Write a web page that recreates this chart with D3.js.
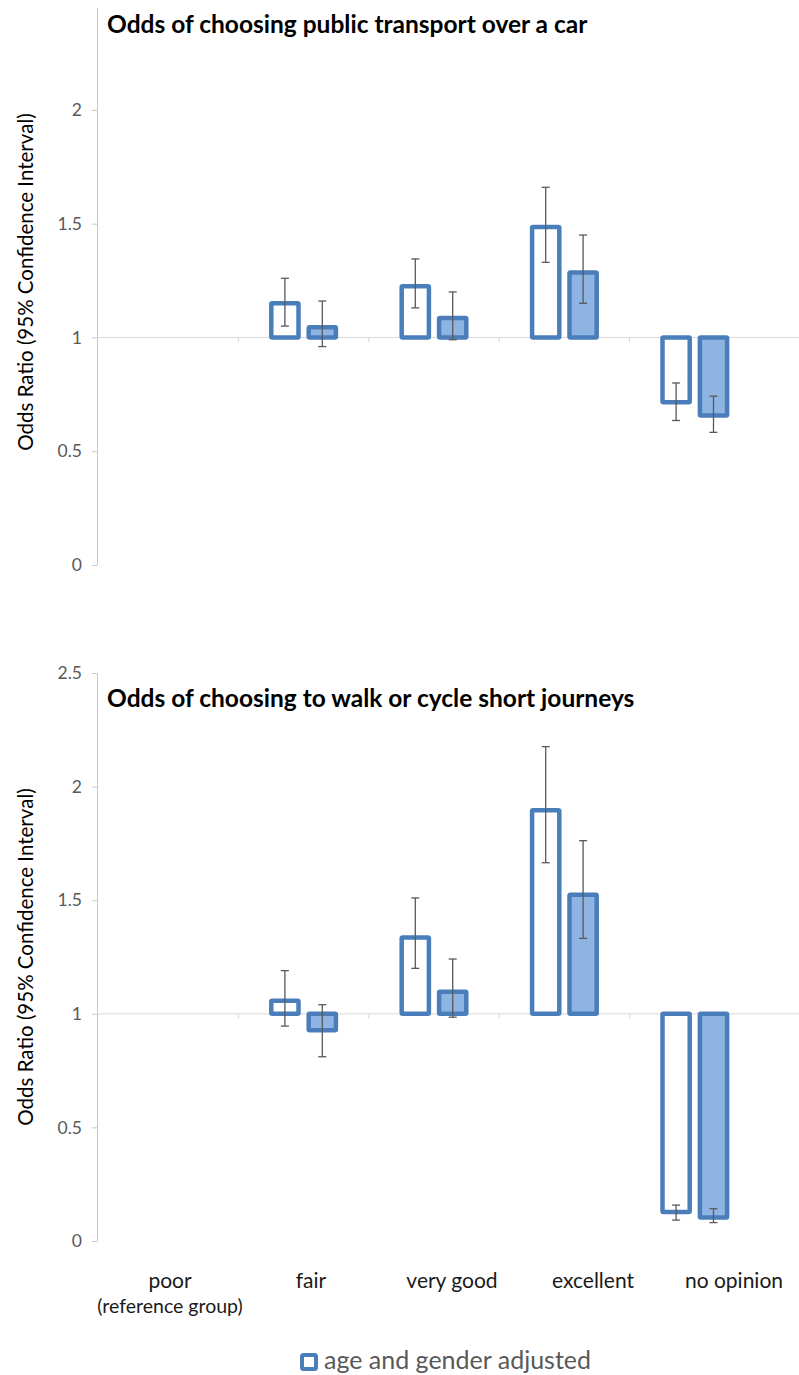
<!doctype html>
<html lang="en">

<head>
    <meta charset="UTF-8" />
    <script src="https://d3js.org/d3.v7.min.js"></script>
    <title>Odds ratios</title>
    <style>
        body { margin: 0; background: white; }
        text { font-family: Lato, "Noto Sans", sans-serif; }
    </style>
</head>

<body>
    <div id="chart"></div>
    <script type="module">
        // Categories and series
        const categories = ["poor", "fair", "very good", "excellent", "no opinion"]
        const seriesKeys = ["crude", "adjusted"]
        const legendLabels = ["age and gender adjusted"]
        const yTicksTop = [0, 0.5, 1, 1.5, 2]
        const yTicksBottom = [0, 0.5, 1, 1.5, 2, 2.5]

        // Public transport over a car (null = reference group)
        const ptCrude = [null, 1.15, 1.225, 1.485, 0.715]
        const ptCrudeLo = [null, 1.05, 1.13, 1.33, 0.635]
        const ptCrudeHi = [null, 1.26, 1.345, 1.66, 0.80]
        const ptAdj = [null, 1.045, 1.085, 1.285, 0.657]
        const ptAdjLo = [null, 0.96, 0.99, 1.15, 0.583]
        const ptAdjHi = [null, 1.16, 1.20, 1.45, 0.742]

        // Walk or cycle short journeys
        const acCrude = [null, 1.057, 1.336, 1.896, 0.128]
        const acCrudeLo = [null, 0.946, 1.20, 1.665, 0.092]
        const acCrudeHi = [null, 1.19, 1.51, 2.176, 0.158]
        const acAdj = [null, 0.928, 1.097, 1.524, 0.103]
        const acAdjLo = [null, 0.811, 0.985, 1.332, 0.081]
        const acAdjHi = [null, 1.04, 1.241, 1.762, 0.142]

        const W = 799
        const H = 1375
        const axisX = 97
        const stroke = "#4a7ebb"
        const fills = { crude: "#ffffff", adjusted: "#8eb4e3" }
        const barStroke = 4.5

        const svg = d3.select("#chart").append("svg")
            .attr("width", W)
            .attr("height", H)

        // shared x scales
        const x0 = d3.scaleBand().domain(categories).range([108, 760])
            .paddingInner(0.47).paddingOuter(0.235)
        const x1 = d3.scaleBand().domain(seriesKeys).range([0, x0.bandwidth()])
            .paddingInner(0.152)

        function rows(vals, lo, hi, key) {
            return categories.map((c, i) => ({ cat: c, key, v: vals[i], lo: lo[i], hi: hi[i] }))
                .filter(d => d.v !== null)
        }

        function panel(cfg) {
            const y = d3.scaleLinear().domain(cfg.domain).range(cfg.range)
            const g = svg.append("g")

            // y axis
            const ax = g.append("g")
                .attr("transform", `translate(${axisX},0)`)
                .call(d3.axisLeft(y).tickValues(cfg.ticks).tickSize(5).tickSizeOuter(0).tickPadding(10)
                    .tickFormat(d3.format("")))
            ax.select(".domain").attr("stroke", "#c8c8c8")
            ax.selectAll(".tick line").attr("stroke", "#c8c8c8")
            ax.selectAll(".tick text").attr("fill", "#595959").style("font-size", "17.5px")

            // axis title
            g.append("text")
                .attr("transform", `translate(33,${cfg.labelY}) rotate(-90)`)
                .attr("text-anchor", "middle")
                .style("font-size", "20.5px")
                .attr("fill", "#000")
                .text("Odds Ratio (95% Confidence Interval)")

            // category line at OR = 1
            g.append("line")
                .attr("x1", axisX).attr("x2", W)
                .attr("y1", y(1)).attr("y2", y(1))
                .attr("stroke", "#d9d9d9")
            g.selectAll(".cat-tick")
                .data(categories.slice(1))
                .join("line")
                .attr("x1", d => x0(d) - x0.step() * x0.paddingInner() / 2)
                .attr("x2", d => x0(d) - x0.step() * x0.paddingInner() / 2)
                .attr("y1", y(1)).attr("y2", y(1) + 5)
                .attr("stroke", "#d9d9d9")

            const data = [...rows(cfg.crude, cfg.crudeLo, cfg.crudeHi, "crude"),
                ...rows(cfg.adj, cfg.adjLo, cfg.adjHi, "adjusted")]

            // bars drawn from 1
            g.selectAll(".bar")
                .data(data)
                .join("rect")
                .attr("x", d => x0(d.cat) + x1(d.key) + barStroke / 2)
                .attr("width", x1.bandwidth() - barStroke)
                .attr("y", d => Math.min(y(d.v), y(1)))
                .attr("height", d => Math.abs(y(d.v) - y(1)))
                .attr("rx", 1)
                .attr("fill", d => fills[d.key])
                .attr("stroke", stroke)
                .attr("stroke-width", barStroke)

            // error bars
            const eb = g.selectAll(".err")
                .data(data)
                .join("g")
                .attr("transform", d => `translate(${x0(d.cat) + x1(d.key) + x1.bandwidth() / 2},0)`)
                .attr("stroke", "#595959")
                .attr("stroke-width", 1.3)
            eb.append("line").attr("y1", d => y(d.lo)).attr("y2", d => y(d.hi))
            eb.append("line").attr("x1", -4).attr("x2", 4).attr("y1", d => y(d.lo)).attr("y2", d => y(d.lo))
            eb.append("line").attr("x1", -4).attr("x2", 4).attr("y1", d => y(d.hi)).attr("y2", d => y(d.hi))

            // title
            g.append("text")
                .attr("x", 107)
                .attr("y", cfg.titleY)
                .style("font-size", "24.5px")
                .style("font-weight", "bold")
                .attr("fill", "#000")
                .text(cfg.title)
            return y
        }

        panel({
            title: "Odds of choosing public transport over a car",
            titleY: 33,
            domain: [0, 2.45], range: [565, 7.5],
            ticks: yTicksTop, labelY: 282,
            crude: ptCrude, crudeLo: ptCrudeLo, crudeHi: ptCrudeHi,
            adj: ptAdj, adjLo: ptAdjLo, adjHi: ptAdjHi
        })

        panel({
            title: "Odds of choosing to walk or cycle short journeys",
            titleY: 707,
            domain: [0, 2.5], range: [1241, 673],
            ticks: yTicksBottom, labelY: 957,
            crude: acCrude, crudeLo: acCrudeLo, crudeHi: acCrudeHi,
            adj: acAdj, adjLo: acAdjLo, adjHi: acAdjHi
        })

        // category labels (below bottom panel)
        const xl = d3.scalePoint().domain(categories).range([170, 734])
        svg.selectAll(".cat-label")
            .data(categories)
            .join("text")
            .attr("x", d => xl(d))
            .attr("y", 1288)
            .attr("text-anchor", "middle")
            .style("font-size", "21px")
            .attr("fill", "#1a1a1a")
            .text(d => d)
        svg.append("text")
            .attr("x", xl("poor"))
            .attr("y", 1313)
            .attr("text-anchor", "middle")
            .style("font-size", "19.5px")
            .attr("fill", "#1a1a1a")
            .text("(reference group)")

        // legend
        const legend = svg.append("g").attr("transform", "translate(302,1355)")
        legendLabels.forEach((d, i) => {
            legend.append("rect")
                .attr("x", 0).attr("y", 0)
                .attr("width", 14).attr("height", 14)
                .attr("rx", 1.5)
                .attr("fill", "#fff")
                .attr("stroke", stroke)
                .attr("stroke-width", 4)
            legend.append("text")
                .attr("x", 22)
                .attr("y", 14)
                .style("font-size", "25px")
                .attr("fill", "#595959")
                .text(d)
        })
    </script>
</body>

</html>
